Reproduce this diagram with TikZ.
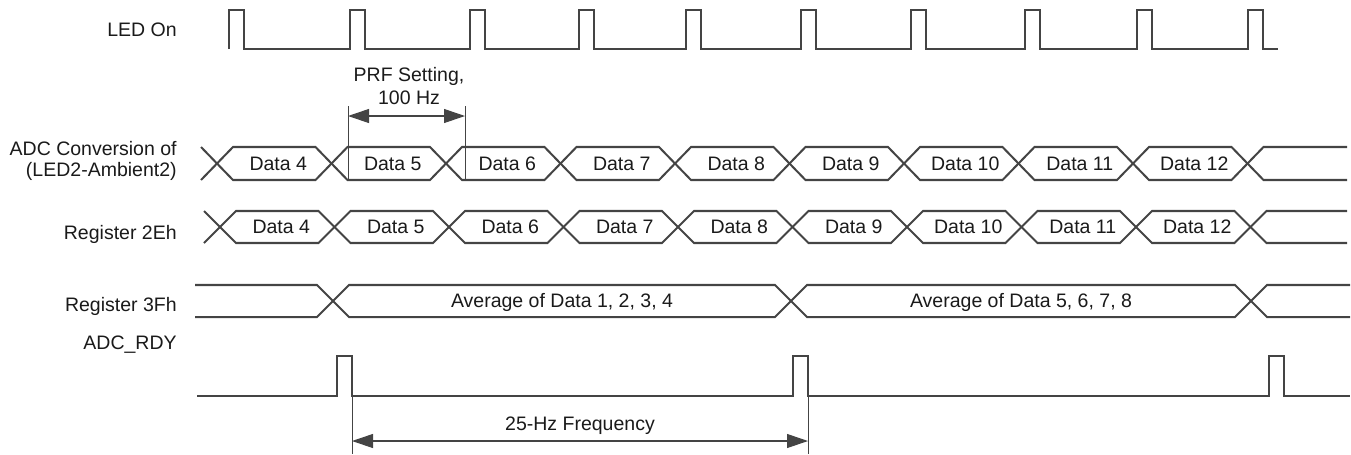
\documentclass[tikz,border=0pt]{standalone}
\usepackage{fontspec}
\setmainfont{Liberation Sans}
\usepackage{tikz}
\usetikzlibrary{arrows.meta,positioning}
\definecolor{ink}{HTML}{1A1A1A}
\definecolor{wave}{HTML}{444444}

\tikzset{
  sig/.style={wave,line width=1.15pt,line join=miter},
  dimline/.style={wave,line width=0.55pt},
  dimarrow/.style={wave,line width=0.6pt,{Triangle[length=4.2mm,width=2.8mm]}-{Triangle[length=4.2mm,width=2.8mm]}},
  signame/.style={anchor=base east,inner sep=0pt,text=ink},
  cell/.style={anchor=base,inner sep=0pt,text=ink},
}

\begin{document}
\begin{tikzpicture}[x=0.02cm,y=-0.02cm,font=\fontsize{11.1}{13}\selectfont]
\useasboundingbox (0,0) rectangle (1351,454);

% Signal names
\node[signame] (nLED) at (177,36) {LED On};
\node[signame] (nADC) at (177,155.5) {ADC Conversion of};
\node[signame] (nADCb) at (177,176.5) {(LED2-Ambient2)};
\node[signame] (n2E) at (177,239) {Register 2Eh};
\node[signame] (n3F) at (177,311) {Register 3Fh};
\node[signame] (nRDY) at (177,349) {ADC\_RDY};

% LED On pulses
\draw[sig] (229,49) foreach \x/\nx in {229/350,350/470,470/579,579/686,686/801,801/911,911/1025,1025/1137,1137/1248,1248/1278} {
  -- (\x,10) -- ({\x+15},10) -- ({\x+15},49) -- (\nx,49) };

% ADC conversion bus (Data 4 ... Data 12)
\draw[sig] (201,147) -- (217,163.5) -- (201,180);
\foreach \n in {4,...,12} {
  \pgfmathsetmacro\a{217+114.5*(\n-4)}
  \pgfmathsetmacro\b{\a+114.5}
  \draw[sig] (\a,163.5) -- ({\a+16},147) -- ({\b-16},147) -- (\b,163.5) -- ({\b-16},180) -- ({\a+16},180) -- cycle;
  \node[cell] (adc\n) at ({(\a+\b)/2+4},170) {Data \n};
}
\draw[sig] (1347,147) -- (1263.5,147) -- (1247.5,163.5) -- (1263.5,180) -- (1347,180);

% Register 2Eh bus
\draw[sig] (204,211) -- (220,227) -- (204,243);
\foreach \n in {4,...,12} {
  \pgfmathsetmacro\a{220+114.5*(\n-4)}
  \pgfmathsetmacro\b{\a+114.5}
  \draw[sig] (\a,227) -- ({\a+16},211) -- ({\b-16},211) -- (\b,227) -- ({\b-16},243) -- ({\a+16},243) -- cycle;
  \node[cell] (reg\n) at ({(\a+\b)/2+4},233.5) {Data \n};
}
\draw[sig] (1347,211) -- (1266.5,211) -- (1250.5,227) -- (1266.5,243) -- (1347,243);

% Register 3Fh bus
\draw[sig] (195,285) -- (317,285) -- (349,317) -- (775,317) -- (807,285) -- (1235,285) -- (1267,317) -- (1350,317);
\draw[sig] (195,317) -- (317,317) -- (349,285) -- (775,285) -- (807,317) -- (1235,317) -- (1267,285) -- (1350,285);
\node[cell] (avgA) at (562,307.5) {Average of Data 1, 2, 3, 4};
\node[cell] (avgB) at (1021,307.5) {Average of Data 5, 6, 7, 8};

% ADC_RDY pulses
\draw[sig] (197,396) foreach \x/\nx in {337/793,793/1269,1269/1350} {
  -- (\x,396) -- (\x,356) -- ({\x+15},356) -- ({\x+15},396) -- (\nx,396) };

% PRF setting dimension
\coordinate (prfA) at (348,116);
\coordinate (prfB) at (465,116);
\draw[dimline] (348,106) -- (348,180);
\draw[dimline] (465,106) -- (465,180);
\draw[dimarrow] (prfA) -- (prfB);
\node[cell] (prfT) at (409,81) {PRF Setting,};
\node[cell] (prfH) at (409,104) {100 Hz};

% 25-Hz dimension
\coordinate (frqA) at (352,441);
\coordinate (frqB) at (808,441);
\draw[dimline] (352,396) -- (352,454);
\draw[dimline] (808,396) -- (808,454);
\draw[dimarrow] (frqA) -- (frqB);
\node[cell] (frqT) at (580,430) {25-Hz Frequency};

\end{tikzpicture}
\end{document}
